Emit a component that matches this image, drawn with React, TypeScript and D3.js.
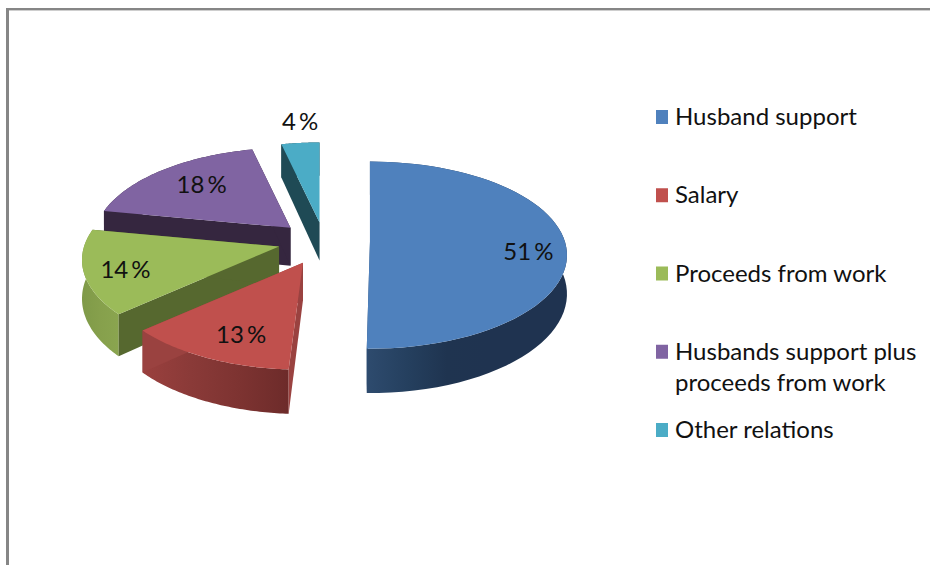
import React from 'react';
import * as d3 from 'd3';

const categories = ['Husband support', 'Salary', 'Proceeds from work', 'Husbands support plus proceeds from work', 'Other relations'];
const values = [51, 13, 14, 18, 4];
const labels = ['51 %', '13 %', '14 %', '18 %', '4 %'];
const legendLines = [['Husband support'], ['Salary'], ['Proceeds from work'], ['Husbands support plus', 'proceeds from work'], ['Other relations']];

const topColors = ['#4f81bd', '#c0504d', '#9bbb59', '#8064a2', '#4bacc6'];
const wallColors = ['#2c4d75', '#9a4240', '#56682f', '#35263f', '#1f4a55'];
// rim gradients, left to right
const rimColors = [
  ['#2e4b6e', '#25405f', '#1f3450', '#1f3350', '#1f3350', '#1f3350'],
  ['#9a403e', '#8a3a38', '#7d3331', '#6d2b2a'],
  ['#7f9a48', '#86a04c', '#8aa54f'],
  ['#35263f', '#35263f'],
  ['#1f4a55', '#1f4a55'],
];
// the 3D view warps the slice edges a little (degrees)
const startTrim = [0, 0, -2.4, 0, 1.5];
const endTrim = [-2.8, -2.4, 0, 1.5, 0];
// where the label sits along the slice's middle radius
const labelFrac = [0.8, 0.66, 0.78, 0.69, 1.22];
const labelDx = [2, 4, -2, -1, 6];
const labelDy = [16, 21, 13, 6, 2];
// small nudge of each exploded slice to sit on the reference
const explodeDx = [0, 2, 0, -4, 0];

const FONT = 'Lato, "Open Sans", sans-serif';
const cx = 324.5;
const cy = 241;
const R = 195;
const K = 91.6;
const persp = 0.144; // foreshortening front to back
const depth = 38;
const explode = 0.232;
const rad = Math.PI / 180;

// pie angle and radius fraction -> screen offset from the pie centre
const project = (theta: number, r = 1, z = 0): [number, number] => {
  const d = r * Math.cos(theta);
  const s = 1 / (1 + persp * d);
  return [R * r * Math.sin(theta) * s, (-K * d + z) * s];
};

const App = () => {
  const arcs = d3.pie<number>().sort(null)(values);
  const line = d3.line();
  const legendY = d3.scalePoint<number>().domain(d3.range(categories.length)).range([117, 430]);

  const slices = arcs.map((a, i) => {
    const mid = (a.startAngle + a.endAngle) / 2;
    const [ex, ey] = project(mid);
    const ax = cx + explode * ex + explodeDx[i];
    const ay = cy + explode * ey;
    const at = (t: number, z = 0, r = 1): [number, number] => {
      const [x, y] = project(t, r, z);
      return [ax + x, ay + y];
    };
    const from = a.startAngle + startTrim[i] * rad;
    const to = a.endAngle + endTrim[i] * rad;
    const steps = d3.range(0, 61).map((k) => from + ((to - from) * k) / 60);
    const top = line([[ax, ay], ...steps.map((t) => at(t))]) + 'Z';
    const rim = line([...steps.map((t) => at(t)), ...steps.slice().reverse().map((t) => at(t, depth))]) + 'Z';
    const wall = (t: number) => line([[ax, ay], at(t), at(t, depth), [ax, ay + depth]]) + 'Z';
    const xs = steps.map((t) => at(t)[0]);
    return { mid, at, top, rim, wallA: wall(from), wallB: wall(to), x0: d3.min(xs)!, x1: d3.max(xs)! };
  });

  // painted back to front
  const order = [4, 3, 2, 1, 0];

  return (
    <svg width={930} height={565} style={{ position: 'absolute', left: 0, top: 0, background: '#fff' }} fontFamily={FONT}>
      <defs>
        {slices.map((s, i) => (
          <linearGradient key={i} id={`rim${i}`} gradientUnits="userSpaceOnUse" x1={s.x0} x2={s.x1} y1={0} y2={0}>
            {rimColors[i].map((c, j) => (
              <stop key={j} offset={j / (rimColors[i].length - 1)} stopColor={c} />
            ))}
          </linearGradient>
        ))}
      </defs>

      <rect x={6} y={8} width={924} height={2.4} fill="#868686" />
      <rect x={6} y={8} width={3} height={557} fill="#868686" />

      {order.map((i) => (
        <g key={i}>
          <path d={slices[i].rim} fill={`url(#rim${i})`} />
          <path d={slices[i].wallA} fill={wallColors[i]} />
          <path d={slices[i].wallB} fill={wallColors[i]} />
          <path d={slices[i].top} fill={topColors[i]} />
        </g>
      ))}

      {slices.map((s, i) => {
        const [x, y] = s.at(s.mid, 0, labelFrac[i]);
        return (
          <text key={i} x={x + labelDx[i] - explodeDx[i]} y={y + labelDy[i]} textAnchor="middle" fontSize={24} wordSpacing={-3} fill="#111">
            {labels[i]}
          </text>
        );
      })}

      {categories.map((c, i) => (
        <g key={c}>
          <rect x={656} y={legendY(i)! - 7} width={12} height={14} fill={topColors[i]} />
          <text x={675} y={legendY(i)! + 8} fontSize={24} fill="#111">
            {legendLines[i].map((t, j) => (
              <tspan key={j} x={675} dy={j === 0 ? 0 : 31}>
                {t}
              </tspan>
            ))}
          </text>
        </g>
      ))}
    </svg>
  );
};

export default App;
